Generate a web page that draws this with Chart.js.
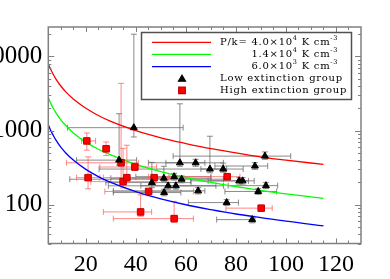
<!DOCTYPE html>
<html><head><meta charset="utf-8">
<script src="https://cdn.jsdelivr.net/npm/chart.js@4/dist/chart.umd.min.js"></script>
<style>html,body{margin:0;padding:0;background:#fff;overflow:hidden}canvas{display:block}</style>
</head><body>
<canvas id="c" width="390" height="279"></canvas>
<script>
// ---- model curves ----
const curveX     = [5, 6, 7, 8, 10, 12, 15, 20, 25, 30, 40, 50, 60, 70, 80, 90, 100, 115];
const redCurve   = [8000, 6670, 5710, 5000, 4000, 3330, 2670, 2000, 1600, 1330, 1000, 800, 670, 570, 500, 440, 400, 350];
const greenCurve = [2800, 2330, 2000, 1750, 1400, 1170, 930, 700, 560, 470, 350, 280, 233, 200, 175, 156, 140, 122];
const blueCurve  = [1200, 1000, 860, 750, 600, 500, 400, 300, 240, 200, 150, 120, 100, 86, 75, 67, 60, 52];

// ---- low extinction group (black triangles) ----
const lowX   = [39.2, 33.3, 46.4, 51.2, 52.9, 51.3, 55.3, 56.0, 58.3, 57.6, 63.9, 69.6, 74.9, 87.6, 91.6, 81.3, 82.7, 92.0, 64.9, 88.9, 76.3, 86.5];
const lowY   = [1096, 400, 199, 228, 180, 146, 239, 180, 221, 368, 368, 303, 303, 333, 453, 210, 210, 181, 154, 151, 107, 63];
const lowXLo = [12.7, 16.3, 28.0, 30.0, 29.0, 31.0, 40.0, 42.0, 13.6, 45.0, 52.0, 25.3, 66.0, 71.6, 54.9, 62.0, 68.9, 76.9, 31.0, 75.6, 61.0, 72.3];
const lowXHi = [58.9, 40.3, 62.0, 70.0, 75.0, 58.0, 70.0, 72.0, 75.0, 75.0, 67.6, 76.3, 82.9, 92.7, 101.9, 85.0, 87.3, 96.7, 67.6, 96.3, 81.0, 87.6];
const lowYLo = [820, 344, 170, 205, 162, 132, 215, 162, 198, 330, 330, 270, 275, 300, 410, 190, 190, 165, 140, 138, 98, 57];
const lowYHi = [20000, 1690, 373, 330, 200, 162, 265, 200, 245, 2300, 410, 840, 365, 370, 516, 232, 232, 200, 170, 165, 117, 70];

// ---- high extinction group (red squares) ----
const highX   = [20.4, 28.1, 34.1, 39.6, 20.9, 34.9, 36.4, 47.3, 45.1, 41.9, 55.3, 76.5, 90.1];
const highY   = [726, 568, 368, 323, 232, 205, 232, 232, 151, 80, 65, 239, 90];
const highXLo = [18.3, 27.0, 12.3, 25.6, 16.3, 22.0, 27.0, 36.3, 27.6, 27.0, 31.0, 45.0, 76.0];
const highXHi = [23.9, 29.5, 41.0, 48.3, 25.6, 48.0, 53.0, 53.6, 63.0, 46.3, 63.0, 81.6, 94.5];
const highYLo = [545, 460, 230, 290, 164, 169, 200, 215, 140, 70, 58, 225, 84];
const highYHi = [929, 703, 4340, 360, 443, 578, 635, 250, 165, 136, 111, 255, 97];

// ---- axes ----
const xTickValues = [20, 40, 60, 80, 100, 120];
const yTickValues = [100, 1000, 10000];

// ---- legend text ----
const curveLabels = [
  [['P/k= 4.0\u00d710', 0], ['4', 1], [' K cm', 0], ['-3', 1]],
  [['1.4\u00d710', 0], ['4', 1], [' K cm', 0], ['-3', 1]],
  [['6.0\u00d710', 0], ['3', 1], [' K cm', 0], ['-3', 1]]
];
const groupLabels = ['Low extinction group', 'High extinction group'];

const toXY = (xs, ys) => xs.map((x, i) => ({x: x, y: ys[i]}));

const AXIS_COLOR = '#808080';
const LOW_ERR = 'rgba(100,100,100,0.75)';
const HIGH_ERR = 'rgba(255,95,95,0.75)';

const errorBars = {
  id: 'errorBars',
  beforeDatasetsDraw(chart) {
    const ctx = chart.ctx, xs = chart.scales.x, ys = chart.scales.y, a = chart.chartArea;
    ctx.save();
    ctx.beginPath(); ctx.rect(a.left, a.top, a.right - a.left, a.bottom - a.top); ctx.clip();
    ctx.lineWidth = 1;
    const groups = [
      [lowX, lowY, lowXLo, lowXHi, lowYLo, lowYHi, LOW_ERR],
      [highX, highY, highXLo, highXHi, highYLo, highYHi, HIGH_ERR]
    ];
    const cap = 3;
    groups.forEach(g => {
      ctx.strokeStyle = g[6];
      for (let i = 0; i < g[0].length; i++) {
        const px = xs.getPixelForValue(g[0][i]), py = ys.getPixelForValue(g[1][i]);
        const x1 = xs.getPixelForValue(g[2][i]), x2 = xs.getPixelForValue(g[3][i]);
        const y1 = ys.getPixelForValue(g[4][i]), y2 = ys.getPixelForValue(g[5][i]);
        ctx.beginPath();
        ctx.moveTo(x1, py); ctx.lineTo(x2, py);
        ctx.moveTo(x1, py - cap); ctx.lineTo(x1, py + cap);
        ctx.moveTo(x2, py - cap); ctx.lineTo(x2, py + cap);
        ctx.moveTo(px, y1); ctx.lineTo(px, y2);
        ctx.moveTo(px - cap, y1); ctx.lineTo(px + cap, y1);
        ctx.moveTo(px - cap, y2); ctx.lineTo(px + cap, y2);
        ctx.stroke();
      }
    });
    ctx.restore();
  }
};

const frameAndLegend = {
  id: 'frameAndLegend',
  afterDraw(chart) {
    const ctx = chart.ctx, xs = chart.scales.x, ys = chart.scales.y, a = chart.chartArea;
    ctx.save();
    // inward tick marks
    ctx.strokeStyle = AXIS_COLOR; ctx.lineWidth = 1;
    ctx.beginPath();
    for (let v = 10; v < xs.max; v += 5) {
      const px = Math.round(xs.getPixelForValue(v)) + 0.5;
      const len = (v % 20 === 0) ? 5 : 3;
      ctx.moveTo(px, a.bottom); ctx.lineTo(px, a.bottom - len);
      ctx.moveTo(px, a.top); ctx.lineTo(px, a.top + len);
    }
    for (let d = 10; d <= 10000; d *= 10) {
      for (let k = 1; k <= 9; k++) {
        const v = k * d;
        if (v < ys.min || v > ys.max) continue;
        const py = Math.round(ys.getPixelForValue(v)) + 0.5;
        const len = (k === 1) ? 6 : 3;
        ctx.moveTo(a.left, py); ctx.lineTo(a.left + len, py);
        ctx.moveTo(a.right, py); ctx.lineTo(a.right - len, py);
      }
    }
    ctx.stroke();
    ctx.lineWidth = 1.5;
    ctx.strokeRect(a.left, a.top, a.right - a.left, a.bottom - a.top);

    // legend box
    const bx = 141.5, by = 32.5, bw = 210, bh = 67;
    ctx.fillStyle = '#fff';
    ctx.fillRect(bx, by, bw, bh);
    ctx.strokeStyle = '#505050'; ctx.lineWidth = 1.5;
    ctx.strokeRect(bx, by, bw, bh);
    const rows = [42.3, 54.4, 66.6, 78.7, 90.4];
    const colors = ['#ff0000', '#00ff00', '#0000ff'];
    ctx.lineWidth = 1.3;
    colors.forEach((c, i) => {
      ctx.strokeStyle = c; ctx.beginPath();
      ctx.moveTo(152, rows[i]); ctx.lineTo(211, rows[i]); ctx.stroke();
    });
    ctx.fillStyle = '#000'; ctx.strokeStyle = '#000';
    Chart.helpers.drawPoint(ctx, {pointStyle: 'triangle', radius: 4, borderWidth: 1}, 182, rows[3] + 0.5);
    ctx.fillStyle = '#ff0000'; ctx.strokeStyle = '#c00000';
    Chart.helpers.drawPoint(ctx, {pointStyle: 'rect', radius: 4.6, borderWidth: 1}, 182, rows[4]);

    // legend text
    const baseFont = '10px "DejaVu Serif"';
    const supFont = '6.5px "DejaVu Serif"';
    ctx.fillStyle = '#000';
    ctx.textBaseline = 'middle';
    ctx.textAlign = 'left';
    ctx.font = baseFont;
    ctx.letterSpacing = '0px';
    const w0 = ctx.measureText(groupLabels[0]).width;
    const ls = Math.max(-0.6, (123 - w0) / groupLabels[0].length);
    ctx.letterSpacing = ls.toFixed(2) + 'px';
    const segWidth = segs => segs.reduce((s, g) => { ctx.font = g[1] ? supFont : baseFont; return s + ctx.measureText(g[0]).width; }, 0);
    const drawSegs = (segs, x, y) => {
      let cx = x;
      segs.forEach(g => {
        ctx.font = g[1] ? supFont : baseFont;
        ctx.fillText(g[0], cx, g[1] ? y - 4 : y);
        cx += ctx.measureText(g[0]).width;
      });
    };
    const tx = 220;
    const rightEdge = tx + segWidth(curveLabels[0]);
    curveLabels.forEach((segs, i) => {
      const w = segWidth(segs);
      drawSegs(segs, i === 0 ? tx : rightEdge - w, rows[i]);
    });
    ctx.font = baseFont;
    groupLabels.forEach((t, i) => ctx.fillText(t, tx, rows[3 + i]));
    ctx.restore();
  }
};

new Chart(document.getElementById('c'), {
  type: 'scatter',
  data: {
    datasets: [
      {data: toXY(lowX, lowY), pointStyle: 'triangle', pointRadius: 4, backgroundColor: '#000', borderColor: '#000', borderWidth: 1, order: 0},
      {data: toXY(highX, highY), pointStyle: 'rect', pointRadius: 4.6, backgroundColor: '#ff0000', borderColor: '#c00000', borderWidth: 1, order: 0},
      {data: toXY(curveX, redCurve), showLine: true, pointRadius: 0, borderColor: '#ff0000', borderWidth: 1.3, cubicInterpolationMode: 'monotone', order: 1},
      {data: toXY(curveX, greenCurve), showLine: true, pointRadius: 0, borderColor: '#00ff00', borderWidth: 1.3, cubicInterpolationMode: 'monotone', order: 1},
      {data: toXY(curveX, blueCurve), showLine: true, pointRadius: 0, borderColor: '#0000ff', borderWidth: 1.3, cubicInterpolationMode: 'monotone', order: 1}
    ]
  },
  options: {
    responsive: false,
    animation: false,
    devicePixelRatio: 1,
    layout: {padding: {left: 0, right: 29, top: 27, bottom: 0}},
    plugins: {legend: {display: false}, tooltip: {enabled: false}},
    scales: {
      x: {
        type: 'linear', min: 5, max: 130,
        grid: {display: false, drawTicks: false},
        border: {display: false},
        afterBuildTicks: s => { s.ticks = xTickValues.map(v => ({value: v})); },
        afterFit: s => { s.height = 35.5; },
        ticks: {font: {family: 'Liberation Serif', size: 24}, color: '#000', padding: 7, maxRotation: 0, autoSkip: false}
      },
      y: {
        type: 'logarithmic', min: 30, max: 25000,
        grid: {display: false, drawTicks: false},
        border: {display: false},
        afterBuildTicks: s => { s.ticks = yTickValues.map(v => ({value: v, major: true})); },
        afterFit: s => { s.width = 48.3; },
        ticks: {font: {family: 'Liberation Serif', size: 25}, color: '#000', padding: 6, autoSkip: false, callback: v => String(v)}
      }
    }
  },
  plugins: [errorBars, frameAndLegend]
});
</script>
</body></html>
